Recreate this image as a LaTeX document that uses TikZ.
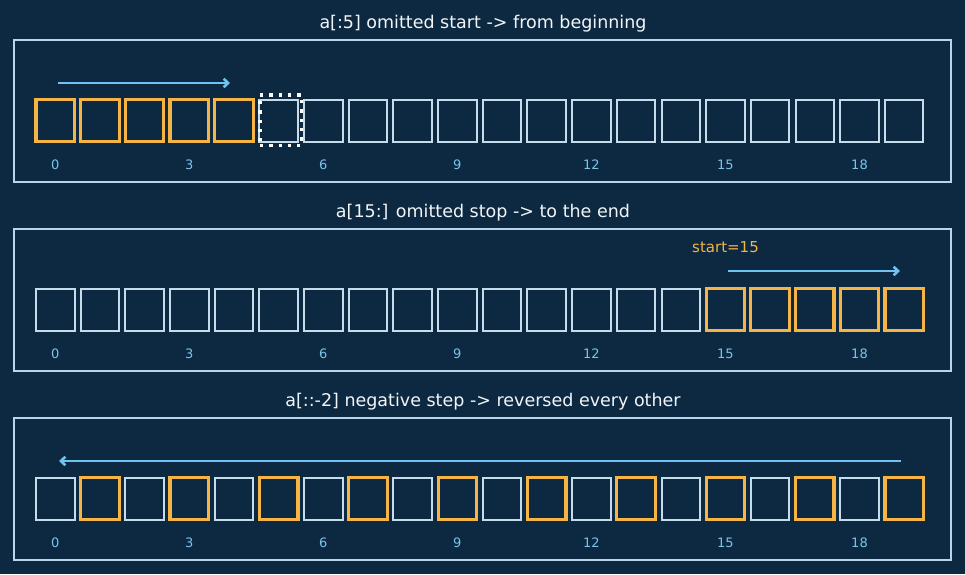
\documentclass[tikz,border=0pt]{standalone}
\usepackage{fontspec}
\setmainfont{DejaVu Sans}
\usetikzlibrary{arrows.meta}
\definecolor{bg}{HTML}{0C2941}
\definecolor{orng}{HTML}{F5B443}
\definecolor{cellw}{HTML}{C6DCEA}
\definecolor{arrowb}{HTML}{6EC3F0}
\definecolor{lbl}{HTML}{7CC3EA}
\definecolor{frm}{HTML}{B9D6E8}
\definecolor{ttl}{HTML}{F2F5F8}
\begin{document}
\begin{tikzpicture}[x=1pt,y=-1pt,
  cell/.style={draw=cellw,line width=2pt,minimum width=38.5pt,minimum height=42pt,inner sep=0pt,outer sep=0pt},
  hcell/.style={cell,draw=orng,line width=3.2pt},
  panel/.style={draw=frm,line width=1.8pt},
  ttlnode/.style={text=ttl,font=\fontsize{17.5}{20}\selectfont,anchor=base,inner sep=0pt},
  idx/.style={text=lbl,font=\fontsize{13}{15}\selectfont,anchor=base,inner sep=0pt},
  note/.style={text=orng,font=\fontsize{15}{18}\selectfont,anchor=base,inner sep=0pt},
  flow/.style={draw=arrowb,line width=2.8pt,-{Straight Barb[length=4.5pt,width=8.5pt,line width=2.6pt]}},
  dotbox/.style={draw=white,line width=3.2pt,dash pattern=on 3.2pt off 6.1pt}
]
\fill[bg] (0,0) rectangle (965,574);
\useasboundingbox (0,0) rectangle (965,574);

% ---------- panel 1 ----------
\node[ttlnode] (t1) at (483,28) {a[:5] omitted start -> from beginning};
\draw[panel] (14,40) rectangle (951,182);
\foreach \i in {0,...,19}{
  \ifnum\i<5
    \node[hcell] (a\i) at ({55.25+44.68*\i},120.5) {};
  \else
    \node[cell] (a\i) at ({55.25+44.68*\i},120.5) {};
  \fi
}
\foreach \i in {0,3,...,18}{
  \node[idx] (la\i) at ({55.25+44.68*\i},169) {\i};
}
\node[dotbox,minimum width=41.5pt,minimum height=50.5pt,inner sep=0pt] (sk) at (280.8,120.3) {};
\coordinate (a1s) at (58,83);
\coordinate (a1e) at (230,83);
\draw[flow] (a1s) -- (a1e);

% ---------- panel 2 ----------
\node[ttlnode] (t2) at (483,217) {a[15:] omitted stop -> to the end};
\draw[panel] (14,229) rectangle (951,371);
\foreach \i in {0,...,19}{
  \ifnum\i>14
    \node[hcell] (b\i) at ({55.25+44.68*\i},309.5) {};
  \else
    \node[cell] (b\i) at ({55.25+44.68*\i},309.5) {};
  \fi
}
\foreach \i in {0,3,...,18}{
  \node[idx] (lb\i) at ({55.25+44.68*\i},358) {\i};
}
\node[note] (st) at (725.5,252) {start=15};
\coordinate (a2s) at (728,271);
\coordinate (a2e) at (900,271);
\draw[flow] (a2s) -- (a2e);

% ---------- panel 3 ----------
\node[ttlnode] (t3) at (483,406) {a[::-2] negative step -> reversed every other};
\draw[panel] (14,418) rectangle (951,560);
\foreach \i in {0,...,19}{
  \ifodd\i
    \node[hcell] (c\i) at ({55.25+44.68*\i},498.5) {};
  \else
    \node[cell] (c\i) at ({55.25+44.68*\i},498.5) {};
  \fi
}
\foreach \i in {0,3,...,18}{
  \node[idx] (lc\i) at ({55.25+44.68*\i},547) {\i};
}
\coordinate (a3s) at (901,461);
\coordinate (a3e) at (59,461);
\draw[flow] (a3s) -- (a3e);
\end{tikzpicture}
\end{document}
